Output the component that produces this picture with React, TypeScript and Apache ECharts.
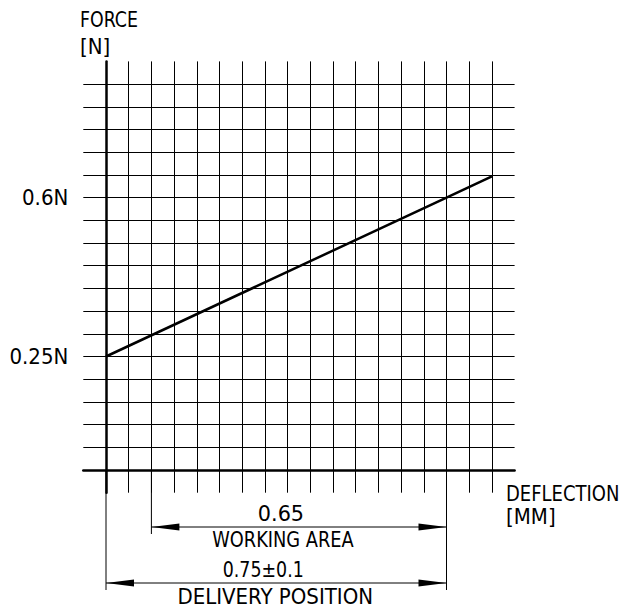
import React, { useEffect, useRef } from 'react';
import * as echarts from 'echarts';

// ---- data ----
const deflection = [0, 0.75, 0.85];
const force = [0.25, 0.6, 0.647];
const yTickValues = [0.25, 0.6];
const yTickLabels = ['0.25N', '0.6N'];
const dimFrom = [0.1, 0];
const dimTo = [0.75, 0.75];
const dimValueText = ['0.65', '0.75\u00B10.1'];
const dimNameText = ['WORKING AREA', 'DELIVERY POSITION'];
const yTitle = ['FORCE', '[N]'];
const xTitle = ['DEFLECTION', '[MM]'];

// ---- layout ----
const FONT = '"DejaVu Sans Condensed", "DejaVu Sans", sans-serif';
const FS = 22;
const ROW_OFFSET = [57, 113];
const VALUE_DX = [-18, -13];
const NAME_DX = [-16, -1];
const VALUE_SX = [1.05, 0.88];
const NAME_SX = [0.9, 1.0];

export default function App() {
  const ref = useRef<HTMLDivElement>(null);
  useEffect(() => {
    if (!ref.current) return;
    const chart = echarts.init(ref.current, null, { renderer: 'svg' });
    const textStyle = (text: string, align: string) => ({
      text,
      fill: '#000',
      fontSize: FS,
      fontFamily: FONT,
      align,
      verticalAlign: 'middle',
    });
    chart.setOption({
      animation: false,
      backgroundColor: '#fff',
      grid: {
        left: 83.3,
        top: 61.4,
        width: 431.3,
        height: 431.3,
        containLabel: false,
        outerBoundsMode: 'none',
      },
      xAxis: {
        type: 'value',
        min: -0.05,
        max: 0.9,
        interval: 0.05,
        axisLine: { show: true, onZero: true, lineStyle: { color: '#000', width: 2.5 } },
        axisTick: { show: false },
        axisLabel: { show: false },
        splitLine: {
          show: true,
          showMinLine: false,
          showMaxLine: false,
          lineStyle: { color: '#000', width: 1 },
        },
      },
      yAxis: {
        type: 'value',
        min: -0.05,
        max: 0.9,
        interval: 0.05,
        axisLine: { show: true, onZero: true, lineStyle: { color: '#000', width: 2.5 } },
        axisTick: { show: false },
        axisLabel: {
          show: true,
          margin: 15,
          color: '#000',
          fontSize: FS,
          fontFamily: FONT,
          formatter: (v: number) => {
            const i = yTickValues.findIndex((t) => Math.abs(t - v) < 1e-6);
            return i >= 0 ? yTickLabels[i] : '';
          },
        },
        splitLine: {
          show: true,
          showMinLine: false,
          showMaxLine: false,
          lineStyle: { color: '#000', width: 1 },
        },
      },
      series: [
        {
          type: 'line',
          data: deflection.map((d, i) => [d, force[i]]),
          symbol: 'none',
          lineStyle: { color: '#000', width: 2.5 },
          z: 5,
        },
        {
          type: 'custom',
          clip: false,
          data: dimFrom.map((f, i) => [f, dimTo[i]]),
          encode: { x: [0, 1] },
          renderItem: (params: any, api: any) => {
            const i = params.dataIndex;
            const p0 = api.coord([api.value(0), 0]);
            const p1 = api.coord([api.value(1), 0]);
            const rowY = p0[1] + ROW_OFFSET[i];
            const ext = rowY + 7;
            const mid = (p0[0] + p1[0]) / 2;
            const ls = { stroke: '#000', lineWidth: 1 };
            return {
              type: 'group',
              children: [
                { type: 'line', shape: { x1: p0[0], y1: p0[1], x2: p0[0], y2: ext }, style: ls },
                { type: 'line', shape: { x1: p1[0], y1: p1[1], x2: p1[0], y2: ext }, style: ls },
                { type: 'line', shape: { x1: p0[0], y1: rowY, x2: p1[0], y2: rowY }, style: ls },
                {
                  type: 'polygon',
                  shape: { points: [[p0[0], rowY], [p0[0] + 28, rowY - 3.5], [p0[0] + 28, rowY + 3.5]] },
                  style: { fill: '#000' },
                },
                {
                  type: 'polygon',
                  shape: { points: [[p1[0], rowY], [p1[0] - 28, rowY - 3.5], [p1[0] - 28, rowY + 3.5]] },
                  style: { fill: '#000' },
                },
                {
                  type: 'text',
                  x: mid + VALUE_DX[i],
                  y: rowY - 13.5,
                  scaleX: VALUE_SX[i],
                  style: textStyle(dimValueText[i], 'center'),
                },
                {
                  type: 'text',
                  x: mid + NAME_DX[i],
                  y: rowY + 13,
                  scaleX: NAME_SX[i],
                  style: textStyle(dimNameText[i], 'center'),
                },
              ],
            };
          },
        },
      ],
      graphic: [
        { type: 'text', x: 80, y: 20, scaleX: 0.88, style: textStyle(yTitle[0], 'left') },
        { type: 'text', x: 80, y: 46.5, style: textStyle(yTitle[1], 'left') },
        { type: 'text', x: 506, y: 493, scaleX: 0.91, style: textStyle(xTitle[0], 'left') },
        { type: 'text', x: 506, y: 516.5, style: textStyle(xTitle[1], 'left') },
      ],
    });
    return () => chart.dispose();
  }, []);
  return (
    <div
      ref={ref}
      style={{ position: 'absolute', left: 0, top: 0, width: 626, height: 608 }}
    />
  );
}
